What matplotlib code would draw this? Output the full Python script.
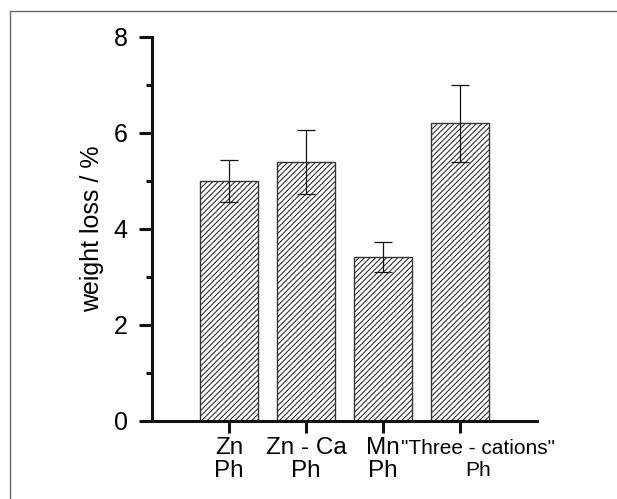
import matplotlib
matplotlib.use("Agg")
import matplotlib.pyplot as plt
from matplotlib.patches import Rectangle
from matplotlib.ticker import MultipleLocator
import matplotlib.transforms as mtransforms

plt.rcParams['font.family'] = ['Liberation Sans', 'DejaVu Sans']
plt.rcParams['hatch.linewidth'] = 0.8
plt.rcParams['hatch.color'] = '#222222'

categories = ['Zn\nPh', 'Zn - Ca\nPh', 'Mn\nPh', '"Three - cations"\nPh']
values = [5.0, 5.4, 3.42, 6.2]
errors = [0.44, 0.67, 0.31, 0.80]
positions = [1, 2, 3, 4]

fig = plt.figure(figsize=(6.17, 4.99), dpi=100)
fig.patches.append(Rectangle((10/617, -0.1), 1.2, 1 - 10.5/499 + 0.1,
                             transform=fig.transFigure, fill=False,
                             edgecolor='#666666', linewidth=1.0))
ax = fig.add_axes([152/617, 1 - 421/499, (537-152)/617, (421-37)/499])

ax.bar(positions, values, width=0.75, color='white', edgecolor='#333333',
       linewidth=1.0, hatch='//////', zorder=2)
ax.errorbar(positions, values, yerr=errors, fmt='none', ecolor='#111111',
            elinewidth=0.9, capsize=6.5, capthick=0.9, zorder=3)

ax.set_xlim(0, 5)
ax.set_ylim(0, 8)
ax.yaxis.set_major_locator(MultipleLocator(2))
ax.yaxis.set_minor_locator(MultipleLocator(1))
ax.set_xticks(positions)
ax.set_xticklabels(categories, fontsize=17.5, linespacing=1.05)
for s in ['top', 'right']:
    ax.spines[s].set_visible(False)
for s in ['left', 'bottom']:
    ax.spines[s].set_linewidth(2.2)
    ax.spines[s].set_color('#111111')
ax.tick_params(axis='y', which='major', length=9.5, width=2.2, labelsize=18, pad=8, color='#111111')
ax.tick_params(axis='y', which='minor', length=4.5, width=2.2, color='#111111')
ax.tick_params(axis='x', which='major', length=8.5, width=2.2, pad=3, color='#111111')
ax.set_ylabel('weight loss / %', fontsize=18, labelpad=7)

# last label: smaller and shifted right as in the reference
lbl = ax.get_xticklabels()[3]
lbl.set_fontsize(15)
lbl.set_linespacing(1.2)
lbl.set_transform(lbl.get_transform() + mtransforms.ScaledTranslation(18/100, -2/100, fig.dpi_scale_trans))

fig.savefig('out.png', dpi=100)
